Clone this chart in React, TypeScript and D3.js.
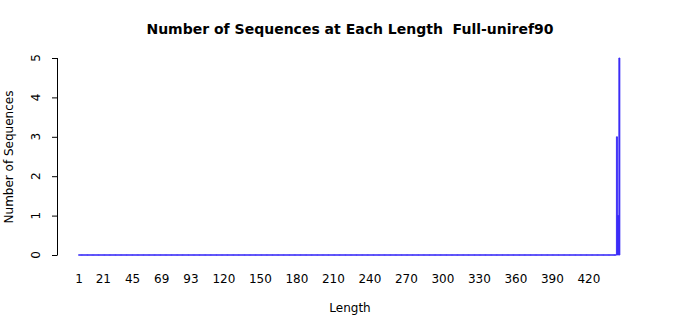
import React from "react";
import * as d3 from "d3";

const maxLength = 445;
const lengths: number[] = d3.range(1, maxLength + 1);
const nonZeroLengths = [443, 444, 445];
const nonZeroCounts = [3, 1, 5];
const xTickLabels = [1, 21, 45, 69, 93, 120, 150, 180, 210, 240, 270, 300, 330, 360, 390, 420];
const yTicks = [0, 1, 2, 3, 4, 5];

const counts: number[] = lengths.map((l) => {
  const i = nonZeroLengths.indexOf(l);
  return i >= 0 ? nonZeroCounts[i] : 0;
});

export default function App() {
  const W = 700, H = 315;
  const font = "DejaVu Sans, sans-serif";
  const x = d3
    .scaleBand<number>()
    .domain(lengths)
    .range([78.4, 78.4 + maxLength * 1.217])
    .paddingInner(0.167)
    .paddingOuter(0.08);
  const y = d3.scaleLinear().domain([0, 5]).range([255, 58]);

  return (
    <svg width={W} height={H} style={{ position: "absolute", left: 0, top: 0, background: "#fff" }}>
      <text x={350} y={34} textAnchor="middle" fontFamily={font} fontWeight="bold" fontSize={14} style={{ whiteSpace: "pre" }}>
        {"Number of Sequences at Each Length  Full-uniref90"}
      </text>
      <line x1={x(1)!} x2={x(442)! + x.bandwidth()} y1={255} y2={255} stroke="#3a2cf8" strokeWidth={1.2} />
      {lengths.map((l, i) => {
        const x0 = x(l)!;
        const x1 = x0 + x.bandwidth();
        const y0 = y(0);
        const y1 = y(counts[i]);
        const p = d3.path();
        p.moveTo(x0, y0);
        p.lineTo(x0, y1);
        p.lineTo(x1, y1);
        p.lineTo(x1, y0);
        p.closePath();
        return (
          <path key={l} d={p.toString()} fill="#2a0cf0" stroke="#3a2cf8" strokeWidth={0.9} />
        );
      })}
      <line x1={57.5} x2={57.5} y1={y(5)} y2={y(0)} stroke="#000" />
      {yTicks.map((t) => (
        <g key={t}>
          <line x1={52} x2={57.5} y1={y(t) + 0.5} y2={y(t) + 0.5} stroke="#000" />
          <text
            transform={`translate(${40},${y(t)}) rotate(-90)`}
            textAnchor="middle"
            fontFamily={font}
            fontSize={12}
          >
            {t}
          </text>
        </g>
      ))}
      {xTickLabels.map((t) => (
        <text
          key={t}
          x={x(t)! + x.bandwidth() / 2}
          y={283}
          textAnchor="middle"
          fontFamily={font}
          fontSize={12}
        >
          {t}
        </text>
      ))}
      <text x={350} y={312} textAnchor="middle" fontFamily={font} fontSize={12}>
        Length
      </text>
      <text
        transform={`translate(${13},${157}) rotate(-90)`}
        textAnchor="middle"
        fontFamily={font}
        fontSize={12}
      >
        Number of Sequences
      </text>
    </svg>
  );
}
